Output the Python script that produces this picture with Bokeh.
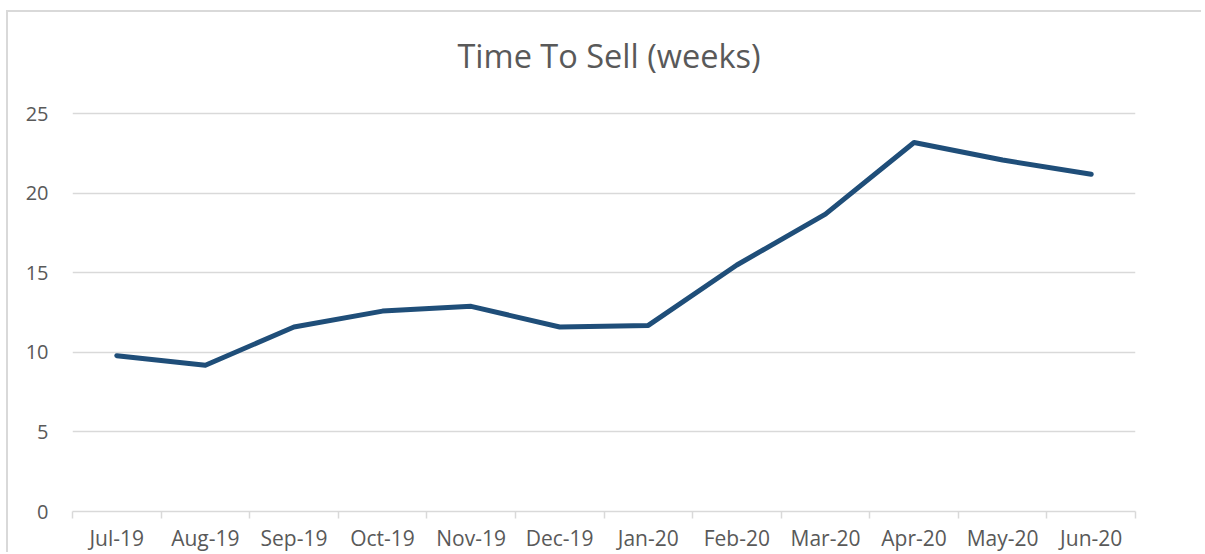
from bokeh.plotting import figure
from bokeh.models import FixedTicker, ColumnDataSource, Range1d
from bokeh.core.properties import value
from bokeh.embed import file_html
from bokeh.resources import INLINE

months = ["Jul-19", "Aug-19", "Sep-19", "Oct-19", "Nov-19", "Dec-19",
          "Jan-20", "Feb-20", "Mar-20", "Apr-20", "May-20", "Jun-20"]
weeks = [9.8, 9.2, 11.6, 12.6, 12.9, 11.6, 11.7, 15.5, 18.7, 23.2, 22.1, 21.2]
y_ticks = [0, 5, 10, 15, 20, 25]
title_text = "Time To Sell (weeks)"

idx = list(range(len(months)))
src = ColumnDataSource(dict(x=idx, y=weeks))

FONT = "Open Sans"
TXT = "#595959"
GRID = "#D9D9D9"

# frame extends above the 25 gridline to leave room for the in-plot title
Y_MAX = 31.25
TITLE_Y = 28.7

p = figure(width=1195, height=542, output_backend="svg", toolbar_location=None,
           x_range=Range1d(-0.5, len(months) - 0.5), y_range=Range1d(0, Y_MAX),
           min_border_left=64, min_border_right=68, min_border_top=2,
           min_border_bottom=42)
p.styles = {"border-left": "2px solid #D9D9D9", "border-top": "2px solid #D9D9D9",
            "margin-left": "6px", "margin-top": "10px"}
p.outline_line_color = None

p.line("x", "y", source=src, line_color="#1F4E79", line_width=5,
       line_cap="round", line_join="round")

p.text(x=[(len(months) - 1) / 2], y=[TITLE_Y], text=[title_text], x_offset=5,
       text_align="center", text_baseline="middle",
       text_font=value(FONT), text_font_size="32.5px", text_color=TXT)

# x axis
p.xaxis.ticker = FixedTicker(ticks=idx, minor_ticks=[i - 0.5 for i in range(len(months) + 1)])
p.xaxis.major_label_overrides = {i: m for i, m in enumerate(months)}
p.xaxis.major_tick_line_color = None
p.xaxis.major_tick_out = 0
p.xaxis.major_tick_in = 0
p.xaxis.minor_tick_line_color = GRID
p.xaxis.minor_tick_line_width = 1.5
p.xaxis.minor_tick_out = 7
p.xaxis.minor_tick_in = 0
p.xaxis.axis_line_color = GRID
p.xaxis.axis_line_width = 1.5
p.xaxis.major_label_text_font = FONT
p.xaxis.major_label_text_font_size = "21px"
p.xaxis.major_label_text_color = TXT
p.xaxis.major_label_standoff = 5
p.xgrid.grid_line_color = None

# y axis
p.yaxis.ticker = FixedTicker(ticks=y_ticks)
p.yaxis.axis_line_color = None
p.yaxis.major_tick_line_color = None
p.yaxis.minor_tick_line_color = None
p.yaxis.major_label_text_font = FONT
p.yaxis.major_label_text_font_size = "20px"
p.yaxis.major_label_text_color = TXT
p.yaxis.major_label_standoff = 18
p.ygrid.grid_line_color = GRID
p.ygrid.grid_line_width = 1.5

open("out.html", "w").write(file_html(p, INLINE))
